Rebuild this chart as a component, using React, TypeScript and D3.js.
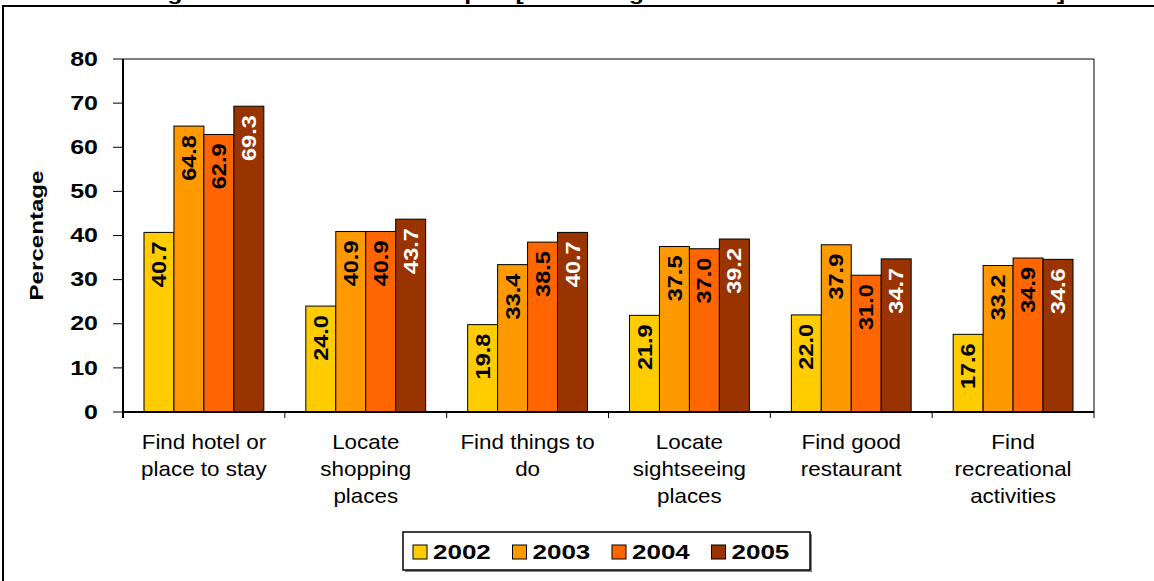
import React from "react";
import * as d3 from "d3";

const categories = [
  "Find hotel or place to stay",
  "Locate shopping places",
  "Find things to do",
  "Locate sightseeing places",
  "Find good restaurant",
  "Find recreational activities",
];
const categoryLines = [
  ["Find hotel or", "place to stay"],
  ["Locate", "shopping", "places"],
  ["Find things to", "do"],
  ["Locate", "sightseeing", "places"],
  ["Find good", "restaurant"],
  ["Find", "recreational", "activities"],
];
const years = ["2002", "2003", "2004", "2005"];
const values2002 = [40.7, 24.0, 19.8, 21.9, 22.0, 17.6];
const values2003 = [64.8, 40.9, 33.4, 37.5, 37.9, 33.2];
const values2004 = [62.9, 40.9, 38.5, 37.0, 31.0, 34.9];
const values2005 = [69.3, 43.7, 40.7, 39.2, 34.7, 34.6];
const seriesValues = [values2002, values2003, values2004, values2005];
const colors = ["#FFCC00", "#FF9900", "#FF6600", "#993300"];
const labelColors = ["#000", "#000", "#000", "#fff"];
const yTicks = [0, 10, 20, 30, 40, 50, 60, 70, 80];
const title = "Figure 8: Internet Use in Japan [Percentage of Visitors Who Used the Internet]";

const FONT = "Arial, 'Liberation Sans', sans-serif";

export default function App() {
  const W = 1154, H = 581;
  const left = 123, right = 1094, top = 59, bottom = 412;
  const y = d3.scaleLinear().domain([0, 80]).range([bottom, top]);
  const x0 = d3.scaleBand<string>().domain(categories).range([left, right]).padding(0);
  const bw = x0.bandwidth();
  const x1 = d3.scaleBand<string>().domain(years).range([21, bw - 21]).padding(0);

  return (
    <svg width={W} height={H} style={{ position: "absolute", left: 0, top: 0, overflow: "hidden" }} fontFamily={FONT}>
      <rect x={0} y={0} width={W} height={H} fill="#fff" />
      {/* title, cut off at top as in the source */}
      <text transform={`translate(605,0) scale(1.31,1)`} textAnchor="middle" fontWeight="bold" fontSize={19}>{title}</text>
      {/* outer frame */}
      <path d={`M3,${H + 5} V6 H${W + 5}`} fill="none" stroke="#000" strokeWidth={2} />

      {/* plot border top/right */}
      <path d={`M${left},${top} H${right} V${bottom}`} fill="none" stroke="#000" strokeWidth={1} />

      {/* bars */}
      {categories.map((c, ci) => (
        <g key={c} transform={`translate(${x0(c)},0)`}>
          {years.map((yr, si) => {
            const v = seriesValues[si][ci];
            const bx = x1(yr)!;
            const w = x1.bandwidth();
            return (
              <g key={yr}>
                <rect x={bx} y={y(v)} width={w} height={bottom - y(v)} fill={colors[si]} stroke="#000" strokeWidth={1} />
                <text
                  transform={`translate(${bx + w / 2},${y(v) + 9}) rotate(-90) scale(1.12,1)`}
                  textAnchor="end"
                  dominantBaseline="central"
                  fontWeight="bold"
                  fontSize={21}
                  fill={labelColors[si]}
                >
                  {v.toFixed(1)}
                </text>
              </g>
            );
          })}
        </g>
      ))}

      {/* y axis */}
      <line x1={left} x2={left} y1={top} y2={bottom + 6} stroke="#000" strokeWidth={2} />
      {yTicks.map((t) => (
        <g key={t}>
          <line x1={left - 10} x2={left} y1={y(t)} y2={y(t)} stroke="#000" strokeWidth={1} />
          <text transform={`translate(98,${y(t)}) scale(1.25,1)`} textAnchor="end" dominantBaseline="central" fontWeight="bold" fontSize={20}>
            {t}
          </text>
        </g>
      ))}
      <text transform={`translate(36,${(top + bottom) / 2}) rotate(-90) scale(1.27,1)`} textAnchor="middle" dominantBaseline="central" fontWeight="bold" fontSize={19}>
        Percentage
      </text>

      {/* x axis */}
      <line x1={left} x2={right} y1={bottom} y2={bottom} stroke="#000" strokeWidth={2} />
      {categories.map((c) => (
        <line key={c} x1={x0(c)! + bw} x2={x0(c)! + bw} y1={bottom} y2={bottom + 6} stroke="#000" strokeWidth={1} />
      ))}
      {categories.map((c, ci) => (
        <g key={c} transform={`translate(${x0(c)! + bw / 2},0) scale(1.12,1)`}>
          <text textAnchor="middle" fontSize={20} fill="#000">
            {categoryLines[ci].map((ln, li) => (
              <tspan key={li} x={0} y={449 + li * 27}>{ln}</tspan>
            ))}
          </text>
        </g>
      ))}

      {/* legend */}
      <rect x={405} y={534} width={407} height={38} fill="#888" />
      <rect x={403} y={532} width={407} height={38} fill="#fff" stroke="#000" strokeWidth={1.5} />
      {years.map((yr, i) => (
        <g key={yr} transform={`translate(${413 + i * 99.5},545)`}>
          <rect x={0} y={0} width={14} height={14} fill={colors[i]} stroke="#000" strokeWidth={1} />
          <text transform={`translate(20,7) scale(1.3,1)`} dominantBaseline="central" fontWeight="bold" fontSize={20}>{yr}</text>
        </g>
      ))}
    </svg>
  );
}
